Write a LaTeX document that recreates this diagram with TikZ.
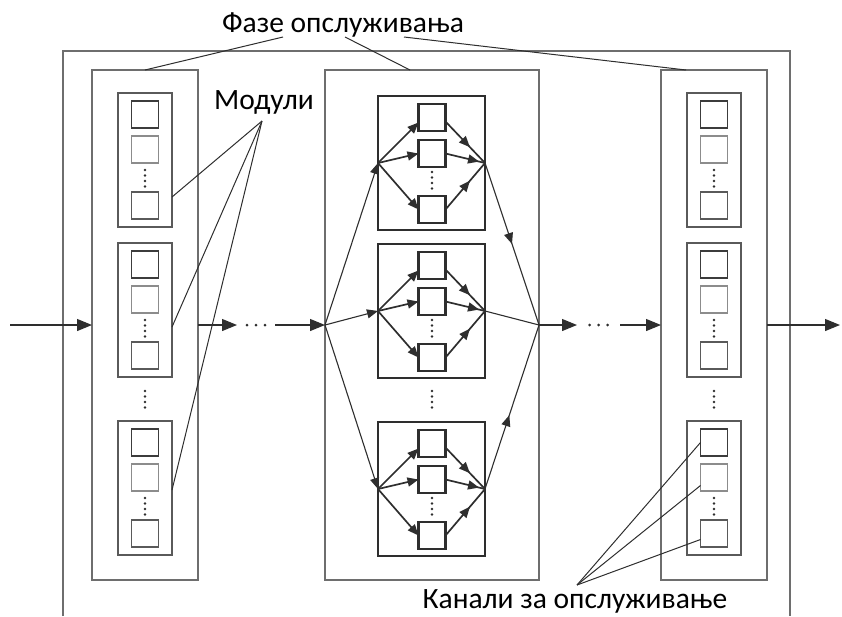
\documentclass[tikz,border=0pt]{standalone}
\usepackage{fontspec}
\setmainfont{Carlito}
\usetikzlibrary{arrows.meta,decorations.markings}
\definecolor{framegray}{HTML}{6E6E6E}
\definecolor{boxdark}{HTML}{3C3C3C}
\definecolor{boxmid}{HTML}{5A5A5A}
\definecolor{boxlight}{HTML}{8C8C8C}
\definecolor{ink}{HTML}{2E2E2E}
\begin{document}
\begin{tikzpicture}[x=1pt,y=-1pt,
  every node/.style={inner sep=0pt,outer sep=0pt},
  outerframe/.style={draw=framegray,line width=1.3pt},
  phasebox/.style={draw=framegray,line width=1.3pt,minimum width=#1,minimum height=510pt},
  modbox/.style={draw=boxmid,line width=1.7pt,minimum width=54pt,minimum height=134pt},
  hubbox/.style={draw=ink,line width=2.6pt,minimum width=107pt,minimum height=134pt},
  chan/.style={draw=#1,line width=1.7pt,minimum size=27pt},
  hubchan/.style={draw=ink,line width=2.2pt,minimum size=27pt},
  leader/.style={draw=ink,line width=1pt},
  flow/.style={draw=ink,line width=1.2pt,-{Triangle[length=15pt,width=12pt]}},
  fan/.style={draw=ink,line width=1.1pt,-{Triangle[length=11pt,width=9pt]}},
  inner/.style={draw=ink,line width=1.7pt,-{Triangle[length=11pt,width=9pt]}},
  link/.style={draw=ink,line width=1.1pt},
  midtip/.style={postaction={decorate},decoration={markings,mark=at position #1 with {\arrow{Triangle[length=11pt,width=9pt]}}}},
  lbl/.style={font=\fontsize{29.5}{32}\selectfont,anchor=base}
]
\useasboundingbox (0,0) rectangle (842,616);

% outer frame, open at the bottom
\draw[outerframe] (63,616) -- (63,51) -- (790,51) -- (790,616);

% service phases
\node[phasebox=106pt] (ph1) at (145,325) {};
\node[phasebox=214pt] (ph2) at (432,325) {};
\node[phasebox=106pt] (ph3) at (714,325) {};

% side phases: modules with serial channels
\foreach \c/\cx in {L/145,R/714}{
  \foreach \m/\t in {1/93,2/243,3/421}{
    \node[modbox] (mod\c\m) at (\cx,\t+67) {};
    \node[chan=boxdark] (sq\c\m-a) at (\cx,\t+21.5) {};
    \node[chan=boxlight] (sq\c\m-b) at (\cx,\t+56.5) {};
    \node[chan=boxmid] (sq\c\m-c) at (\cx,\t+112.5) {};
    \foreach \d in {0,...,3} \fill[ink] (\cx,\t+77+5.5*\d) circle (1.3pt);
  }
  \foreach \d in {0,...,3} \fill[ink] (\cx,391+5.5*\d) circle (1.3pt);
}

% middle phase: modules with parallel channels
\foreach \m/\t in {1/96,2/244,3/422}{
  \node[hubbox] (modM\m) at (431.5,\t+67) {};
  \node[hubchan] (sqM\m-a) at (432,\t+21.5) {};
  \node[hubchan] (sqM\m-b) at (432,\t+57.5) {};
  \node[hubchan] (sqM\m-c) at (432,\t+113.5) {};
  \foreach \d in {0,...,3} \fill[ink] (432,\t+76+5.5*\d) circle (1.3pt);
  \draw[inner] (modM\m.west) -- ([yshift=-5pt]sqM\m-a.west);
  \draw[inner] (modM\m.west) -- (sqM\m-b.west);
  \draw[inner] (modM\m.west) -- (sqM\m-c.west);
  \draw[link,line width=1.7pt,midtip=0.62] ([yshift=-4pt]sqM\m-a.east) -- (modM\m.east);
  \draw[link,line width=1.7pt,midtip=0.85] (sqM\m-b.east) -- (modM\m.east);
  \draw[link,line width=1.7pt,midtip=0.62] (sqM\m-c.east) -- (modM\m.east);
}
\foreach \d in {0,...,3} \fill[ink] (432,391+5.5*\d) circle (1.3pt);

% branching inside the middle phase
\foreach \m in {1,2,3} \draw[fan] (ph2.west) -- (modM\m.west);
\draw[link,midtip=0.5] (modM1.east) -- (ph2.east);
\draw[link] (modM2.east) -- (ph2.east);
\draw[link,midtip=0.45] (modM3.east) -- (ph2.east);

% main flow
\coordinate (src) at (10,325);
\coordinate (sink) at (840,325);
\node[minimum width=38pt,minimum height=6pt] (gap1) at (256,325) {};
\node[minimum width=43pt,minimum height=6pt] (gap2) at (598.5,325) {};
\foreach \g in {gap1,gap2} \foreach \dx in {-9,0,9} \fill[ink] ([xshift=\dx pt]\g.center) circle (1.5pt);
\draw[flow] (src) -- (ph1.west);
\draw[flow] (ph1.east) -- (gap1.west);
\draw[flow] (gap1.east) -- (ph2.west);
\draw[flow] (ph2.east) -- (gap2.west);
\draw[flow] (gap2.east) -- (ph3.west);
\draw[flow] (ph3.east) -- (sink);

% labels and their leader lines
\node[lbl] (phl) at (343,32) {Фазе опслуживања};
\node[lbl] (modl) at (264,109) {Модули};
\node[lbl] (chl) at (575,608) {Канали за опслуживање};

\draw[leader] ([xshift=-60pt,yshift=-5pt]phl.base) -- (ph1.north);
\draw[leader] ([xshift=2pt,yshift=-5pt]phl.base) -- ([xshift=-22pt]ph2.north);
\draw[leader] ([xshift=61pt,yshift=-5pt]phl.base) -- ([xshift=-28pt]ph3.north);

\draw[leader] ([xshift=-2pt,yshift=-12pt]modl.base) -- ([yshift=-37pt]modL1.east);
\draw[leader] ([xshift=-2pt,yshift=-12pt]modl.base) -- ([yshift=-17pt]modL2.east);
\draw[leader] ([xshift=-2pt,yshift=-12pt]modl.base) -- ([yshift=-2pt]modL3.east);

\draw[leader] ([xshift=2pt,yshift=23pt]chl.base) -- (sqR3-a.west);
\draw[leader] ([xshift=2pt,yshift=23pt]chl.base) -- ([yshift=-8pt]sqR3-b.west);
\draw[leader] ([xshift=2pt,yshift=23pt]chl.base) -- ([yshift=-6pt]sqR3-c.west);
\end{tikzpicture}
\end{document}
